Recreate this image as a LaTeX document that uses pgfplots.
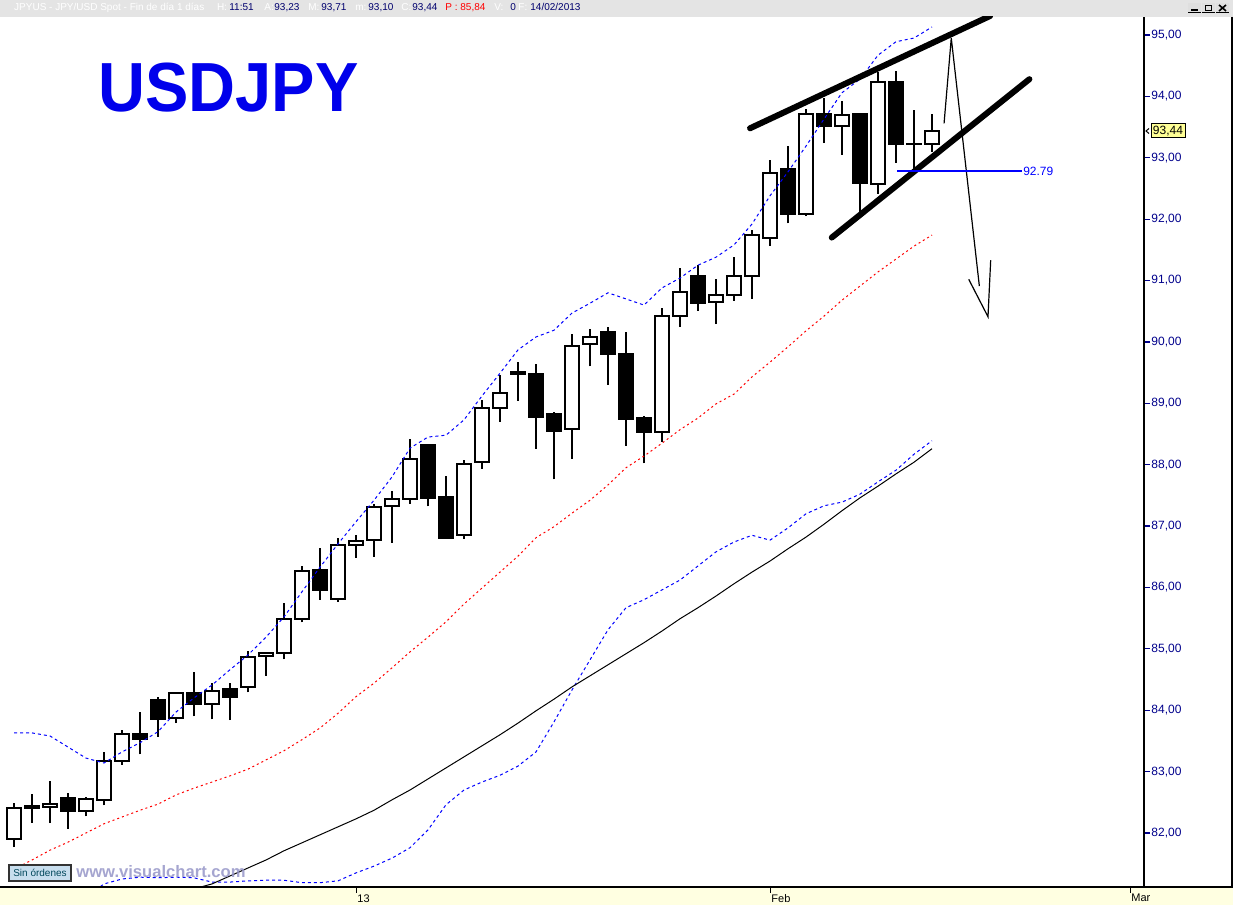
\documentclass[border=0pt]{standalone}
\usepackage{pgfplots}
\usepackage{pgfplotstable}
\pgfplotsset{compat=1.18}
\usepackage{fontspec}
\setmainfont{Liberation Sans}

\definecolor{navyc}{RGB}{0,0,140}
\definecolor{hdrnavy}{RGB}{0,0,110}
\definecolor{hdrgray}{RGB}{228,228,228}
\definecolor{stripy}{RGB}{255,255,225}
\definecolor{ordfill}{RGB}{200,222,238}
\definecolor{ordtext}{RGB}{0,70,90}
\definecolor{wmark}{RGB}{150,150,200}
\definecolor{tagy}{RGB}{255,255,150}
\definecolor{bandblue}{RGB}{0,0,255}
\definecolor{titleblue}{RGB}{0,0,235}

% daily candles: index, open, high, low, close
\pgfplotstableread{
i o h l c
0 81.90 82.49 81.77 82.40
1 82.44 82.64 82.17 82.40
2 82.42 82.85 82.16 82.48
3 82.57 82.65 82.07 82.35
4 82.35 82.59 82.27 82.55
5 82.53 83.32 82.45 83.18
6 83.18 83.68 83.11 83.62
7 83.62 83.97 83.28 83.53
8 84.16 84.22 83.57 83.86
9 83.88 84.30 83.79 84.28
10 84.28 84.62 83.90 84.10
11 84.10 84.45 83.85 84.32
12 84.34 84.44 83.84 84.21
13 84.37 84.96 84.29 84.86
14 84.88 84.95 84.56 84.93
15 84.93 85.75 84.83 85.48
16 85.48 86.35 85.43 86.26
17 86.28 86.64 85.80 85.96
18 85.81 86.81 85.77 86.69
19 86.69 86.85 86.48 86.75
20 86.77 87.36 86.50 87.31
21 87.32 87.57 86.73 87.44
22 87.44 88.42 87.36 88.10
23 88.32 88.34 87.32 87.45
24 87.47 87.82 86.79 86.81
25 86.85 88.08 86.79 88.01
26 88.04 89.05 87.93 88.93
27 88.93 89.46 88.70 89.16
28 89.51 89.67 89.04 89.47
29 89.48 89.64 88.26 88.78
30 88.83 88.86 87.76 88.55
31 88.58 90.13 88.10 89.94
32 89.96 90.21 89.60 90.08
33 90.16 90.24 89.30 89.81
34 89.81 90.16 88.31 88.75
35 88.76 88.79 88.02 88.54
36 88.54 90.55 88.37 90.42
37 90.42 91.20 90.25 90.82
38 91.07 91.25 90.51 90.64
39 90.65 91.02 90.29 90.76
40 90.76 91.39 90.67 91.07
41 91.07 91.82 90.70 91.74
42 91.70 92.96 91.57 92.75
43 92.82 93.19 91.93 92.09
44 92.09 93.79 92.05 93.71
45 93.72 93.98 93.24 93.51
46 93.51 93.92 93.05 93.69
47 93.71 93.73 92.12 92.59
48 92.57 94.40 92.41 94.24
49 94.23 94.41 92.92 93.22
50 93.22 93.78 92.79 93.23
51 93.23 93.71 93.10 93.44
}\candles

% bands: upper, middle, lower, long average
\pgfplotstableread{
i up mid lo ma
0 83.63 81.41 nan nan
1 83.63 81.56 nan nan
2 83.58 81.72 nan nan
3 83.40 81.85 nan nan
4 83.22 82.00 80.95 nan
5 83.14 82.15 81.17 nan
6 83.32 82.26 81.25 nan
7 83.47 82.37 81.28 nan
8 83.65 82.47 81.27 nan
9 83.97 82.62 81.28 nan
10 84.20 82.73 81.27 81.09
11 84.41 82.83 81.20 81.17
12 84.66 82.93 81.20 81.30
13 84.90 83.04 81.22 81.43
14 85.19 83.19 81.23 81.56
15 85.52 83.34 81.23 81.71
16 85.93 83.52 81.19 81.84
17 86.33 83.71 81.19 81.97
18 86.71 83.95 81.22 82.10
19 87.07 84.22 81.35 82.23
20 87.42 84.44 81.46 82.37
21 87.80 84.69 81.59 82.54
22 88.27 84.95 81.76 82.70
23 88.45 85.19 82.05 82.88
24 88.48 85.44 82.46 83.06
25 88.73 85.73 82.70 83.24
26 89.12 85.99 82.83 83.42
27 89.49 86.25 82.94 83.60
28 89.87 86.51 83.09 83.79
29 90.08 86.81 83.32 83.99
30 90.19 86.99 83.81 84.18
31 90.47 87.21 84.33 84.38
32 90.63 87.42 84.82 84.56
33 90.80 87.67 85.31 84.74
34 90.70 87.95 85.67 84.92
35 90.60 88.14 85.80 85.10
36 90.88 88.35 85.96 85.29
37 91.04 88.57 86.12 85.49
38 91.25 88.76 86.35 85.67
39 91.38 88.99 86.58 85.86
40 91.58 89.15 86.74 86.06
41 91.92 89.43 86.85 86.25
42 92.38 89.67 86.77 86.43
43 92.77 89.92 86.97 86.63
44 93.19 90.18 87.20 86.82
45 93.63 90.42 87.33 87.03
46 94.06 90.68 87.39 87.25
47 94.28 90.91 87.52 87.46
48 94.67 91.14 87.72 87.65
49 94.89 91.35 87.91 87.85
50 94.95 91.56 88.17 88.04
51 95.13 91.74 88.39 88.26
}\bands

\pgfplotsset{
  chart/.style={
    scale only axis, width=572pt, height=435pt,
    at={(0pt,9pt)}, anchor=south west,
    xmin=-0.7778, xmax=62.7778, ymin=81.12, ymax=95.293,
    enlargelimits=false
  }
}

\begin{document}
\begin{tikzpicture}
\useasboundingbox (0,0) rectangle (616.5pt,452.5pt);
\fill[white] (0,0) rectangle (616.5pt,452.5pt);
% pixel frame: (x,y) from the top left
\begin{scope}[x=0.5pt, y=-0.5pt, shift={(0,452.5pt)}]
  \fill[hdrgray] (0,0) rectangle (1233,17);
  \fill[stripy] (0,887) rectangle (1233,905);
\end{scope}

% wicks
\begin{axis}[chart, hide axis]
  \addplot[draw=none, mark=none,
    error bars/.cd, y dir=plus, y explicit, error mark=none,
    error bar style={draw=black, line width=1pt, solid}]
    table[x=i, y=l, y error expr=\thisrow{h}-\thisrow{l}] \candles;
\end{axis}

% bodies
\begin{axis}[chart, hide axis, ybar stacked, bar width=7pt]
  \addplot[draw=none, fill=none] table[x=i, y expr={min(\thisrow{o},\thisrow{c})}] \candles;
  \addplot[draw=black, fill=white, line width=1pt] table[x=i, y expr={max(\thisrow{c}-\thisrow{o},0)}] \candles;
  \addplot[draw=black, fill=black, line width=1pt] table[x=i, y expr={max(\thisrow{o}-\thisrow{c},0)}] \candles;
\end{axis}

% indicators, trend lines, ticks
\begin{axis}[chart,
    axis x line*=bottom, axis y line*=right,
    axis line style={line width=1pt, black},
    tick align=outside, major tick length=3pt,
    xtick={19,42,62}, xticklabels={13,Feb,Mar},
    ytick={82,83,...,95},
    xtick style={black, line width=0.5pt},
    ytick style={navyc, line width=0.6pt},
    xticklabel style={font=\fontsize{5.5}{6.5}\selectfont, anchor=north west, inner sep=0pt, xshift=0.5pt, yshift=-0.5pt},
    yticklabel style={font=\fontsize{6}{7}\selectfont, text=navyc, anchor=west, inner sep=0pt, xshift=0.5pt,
      /pgf/number format/.cd, fixed, fixed zerofill, precision=2, use comma, assume math mode=true}
  ]
  \addplot[bandblue, line width=0.5pt, dash pattern=on 1.5pt off 1.5pt] table[x=i, y=up] \bands;
  \addplot[red, line width=0.5pt, dash pattern=on 1pt off 1.5pt] table[x=i, y=mid] \bands;
  \addplot[bandblue, line width=0.5pt, dash pattern=on 1.5pt off 1.5pt] table[x=i, y=lo] \bands;
  \addplot[black, line width=0.5pt] table[x=i, y=ma] \bands;

  % wedge lines
  \addplot[black, line width=3pt, line cap=round] coordinates {(40.89,93.48) (54.23,95.31)};
  \addplot[black, line width=3pt, line cap=round] coordinates {(45.43,91.70) (56.41,94.28)};
  % projected move
  \addplot[black, line width=0.6pt] coordinates {(51.67,93.56) (52.07,94.95) (53.63,90.91)};
  \addplot[black, line width=0.6pt] coordinates {(53.04,91.02) (54.11,90.41) (54.26,91.33)};
  % support level
  \draw[color=bandblue, line width=0.9pt] (axis cs:49.06,92.78) -- (axis cs:56.0,92.78);
  \node[anchor=west, inner sep=0pt, text=bandblue, font=\fontsize{6}{7}\selectfont] at (axis cs:56.05,92.78) {92.79};
\end{axis}

\begin{scope}[x=0.5pt, y=-0.5pt, shift={(0,452.5pt)}]
  \draw[black, line width=1pt] (0,887) -- (1233,887);
  \draw[black, line width=1pt] (1232,17) -- (1232,887);

  % title
  \node[anchor=base west, inner sep=0pt, text=titleblue, yscale=1.07,
    font=\fontsize{32.5}{36}\selectfont\bfseries] at (98,112) {USDJPY};

  % header line
  \begin{scope}[every node/.style={anchor=base west, inner sep=0pt, font=\fontsize{5}{6}\selectfont}]
    \node[text=white] at (13.8,10.5) {JPYUS - JPY/USD Spot - Fin de día 1 días};
    \node[text=white] at (216.6,10.5) {H:};
    \node[text=hdrnavy] at (229,10.5) {11:51};
    \node[text=white] at (264,10.5) {A:};
    \node[text=hdrnavy] at (274,10.5) {93,23};
    \node[text=white] at (308,10.5) {M:};
    \node[text=hdrnavy] at (321,10.5) {93,71};
    \node[text=white] at (355,10.5) {m:};
    \node[text=hdrnavy] at (368,10.5) {93,10};
    \node[text=white] at (401,10.5) {C:};
    \node[text=hdrnavy] at (412,10.5) {93,44};
    \node[text=red] at (445,10.5) {P : 85,84};
    \node[text=white] at (494,10.5) {V:};
    \node[text=hdrnavy] at (510,10.5) {0};
    \node[text=white] at (518,10.5) {F:};
    \node[text=hdrnavy] at (530,10.5) {14/02/2013};
  \end{scope}

  % window buttons
  \foreach \bx in {1188,1202,1216} {
    \fill[gray!25] (\bx,3) rectangle ++(13,10);
    \draw[black, line width=0.5pt] (\bx,13) -- ++(13,0);
  }
  \draw[black, line width=0.8pt] (1191,10) -- (1198,10);
  \draw[black, line width=0.5pt] (1205,6) rectangle (1211,11);
  \draw[black, line width=0.8pt] (1219,5) -- (1226,11) (1219,11) -- (1226,5);

  % last price tag
  \draw[black, line width=0.5pt] (1149,128.5) -- (1146,131) -- (1149,133.5);
  \node[draw=black, line width=0.5pt, fill=tagy, inner sep=0pt, minimum width=17pt, minimum height=7pt,
    font=\fontsize{6}{7}\selectfont] at (1168,131) {93,44};

  % footer texts
  \node[draw=black!80, line width=0.6pt, fill=ordfill, text=ordtext, inner sep=0pt,
    minimum width=31pt, minimum height=8pt, font=\fontsize{5}{6}\selectfont] at (40,873) {Sin órdenes};
  \node[anchor=base west, inner sep=0pt, text=wmark, opacity=0.85,
    font=\fontsize{8.3}{9}\selectfont\bfseries] at (76,878) {www.visualchart.com};
\end{scope}
\end{tikzpicture}
\end{document}
